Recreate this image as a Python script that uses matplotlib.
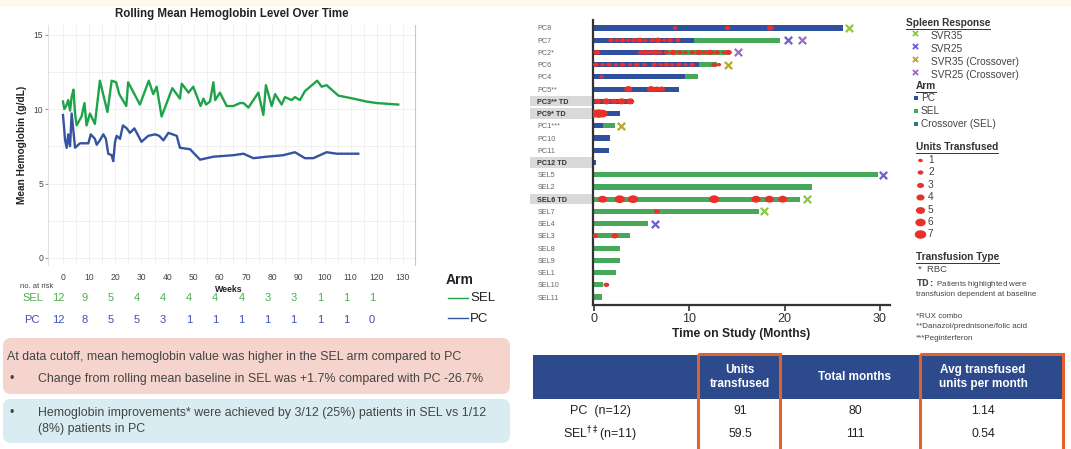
import numpy as np
import matplotlib.pyplot as plt
import matplotlib.transforms as mtransforms
from matplotlib.patches import Rectangle, FancyBboxPatch
from matplotlib.path import Path

plt.rcParams['font.family'] = ['Liberation Sans', 'DejaVu Sans']

W, H = 1071, 449

# rolling mean hemoglobin (g/dL) by study week
sel_weeks = [0, 0.5, 1.2, 2.0, 2.7, 3.3, 4.0, 4.6, 5.2, 7.1, 8.2, 9.0, 10.3, 12.2, 14.1, 17.0,
             18.6, 20.3, 21.5, 24.2, 24.9, 29.4, 32.8, 34.5, 35.8, 37.7, 41.8, 44.7, 45.4, 48.0,
             49.8, 52.6, 53.7, 54.7, 56.2, 57.5, 58.2, 60.0, 62.6, 65.1, 67.7, 69.0, 70.9, 74.7,
             76.6, 77.6, 79.8, 81.1, 83.6, 84.9, 87.4, 88.7, 90.6, 92.5, 97.2, 98.9, 100.8, 105.3,
             111.0, 116.1, 120.0, 128.2]
sel_hgb = [10.5, 10.0, 10.2, 10.6, 9.9, 10.8, 11.3, 9.7, 8.9, 9.5, 10.4, 8.9, 9.7, 9.0, 11.9, 9.8,
           11.9, 11.8, 11.0, 10.2, 11.8, 10.3, 11.9, 11.0, 11.5, 9.5, 11.4, 10.7, 11.7, 11.1,
           11.5, 10.2, 10.7, 10.3, 10.5, 11.8, 10.6, 11.1, 10.2, 10.2, 10.4, 10.4, 10.1, 11.1,
           9.6, 11.6, 10.2, 11.0, 10.3, 10.8, 10.6, 10.8, 10.6, 11.2, 11.9, 11.5, 11.6, 10.9,
           10.7, 10.5, 10.4, 10.3]
pc_weeks = [0, 0.8, 1.4, 2.0, 2.7, 3.3, 4.6, 6.5, 9.7, 10.6, 12.2, 12.9, 14.1, 15.4, 16.4, 17.3,
            18.6, 19.2, 19.9, 20.5, 21.8, 22.9, 24.4, 25.6, 27.3, 30.0, 32.6, 35.2, 36.8, 38.4,
            40.3, 43.5, 44.7, 48.6, 52.4, 57.5, 65.1, 69.0, 72.8, 77.9, 84.2, 88.7, 92.5, 95.7,
            100.8, 104.7, 112.9]
pc_hgb = [9.6, 7.9, 7.4, 8.3, 7.5, 9.7, 7.4, 7.7, 7.7, 8.3, 8.0, 7.6, 7.9, 8.3, 8.0, 7.0,
          6.9, 6.5, 7.8, 8.2, 8.0, 8.9, 8.7, 8.4, 8.7, 7.8, 8.2, 8.3, 8.2, 7.9,
          8.4, 8.2, 7.4, 7.3, 6.6, 6.8, 6.9, 7.0, 6.7, 6.8, 6.9, 7.1, 6.7, 6.7,
          7.1, 7.0, 7.0]

risk_weeks = [0, 10, 20, 30, 40, 50, 60, 70, 80, 90, 100, 110, 120]
risk_sel = [12, 9, 5, 4, 4, 4, 4, 4, 3, 3, 1, 1, 1]
risk_pc = [12, 8, 5, 5, 3, 1, 1, 1, 1, 1, 1, 1, 0]

# swimmer plot: time on study (months)
patients = ['PC8', 'PC7', 'PC2*', 'PC6', 'PC4', 'PC5**', 'PC3** TD', 'PC9* TD', 'PC1***',
            'PC10', 'PC11', 'PC12 TD', 'SEL5', 'SEL2', 'SEL6 TD', 'SEL7', 'SEL4', 'SEL3',
            'SEL8', 'SEL9', 'SEL1', 'SEL10', 'SEL11']
pc_end = [26.1, 10.5, 7.6, 11.0, 9.6, 8.9, 4.1, 2.7, 1.0, 1.7, 1.6, 0.2,
          0, 0, 0, 0, 0, 0, 0, 0, 0, 0, 0]
total_months = [26.1, 19.5, 14.3, 12.9, 10.9, 8.9, 4.1, 2.7, 2.2, 1.7, 1.6, 0.2,
                29.8, 22.9, 21.6, 17.3, 5.7, 3.8, 2.7, 2.7, 2.3, 0.9, 0.8]

tx_row = [0, 0, 0,
          1, 1, 1, 1, 1, 1, 1, 1, 1, 1, 1, 1,
          2, 2, 2, 2, 2, 2, 2, 2, 2, 2, 2, 2, 2, 2, 2, 2, 2,
          3, 3, 3, 3, 3, 3, 3, 3, 3, 3, 3, 3, 3, 3, 3, 3, 3,
          4, 5, 5, 5, 5, 6, 6, 6, 6, 6, 7, 7, 7,
          14, 14, 14, 14, 14, 14, 14, 15, 17, 17, 21]
tx_month = [8.5, 14.0, 18.5,
            1.8, 2.4, 3.0, 3.6, 4.2, 4.8, 5.4, 6.1, 6.7, 7.4, 8.0, 8.8,
            0.3, 4.9, 5.4, 5.9, 6.4, 6.9, 7.6, 8.3, 9.0, 9.6, 10.3, 11.0, 11.6, 12.2, 12.9, 13.6, 14.1,
            0.2, 0.9, 1.6, 2.3, 3.0, 3.8, 4.5, 5.3, 6.3, 7.0, 7.6, 8.2, 8.9, 9.6, 10.3, 12.6, 13.1,
            0.8, 3.6, 6.0, 6.6, 7.1, 0.4, 1.3, 2.1, 2.9, 3.8, 0.1, 0.5, 0.9,
            0.9, 2.7, 4.1, 12.6, 17.0, 18.4, 19.8, 6.6, 0.1, 2.2, 1.3]
tx_units = [1, 2, 3,
            2, 1, 2, 1, 2, 3, 1, 2, 3, 1, 2, 2,
            3, 2, 3, 2, 3, 2, 2, 3, 2, 1, 2, 3, 2, 3, 2, 1, 3,
            2, 1, 2, 1, 2, 1, 2, 1, 2, 1, 2, 1, 2, 1, 2, 2, 1,
            1, 4, 4, 3, 3, 3, 4, 3, 4, 4, 6, 7, 6,
            5, 6, 6, 6, 5, 5, 5, 2, 2, 3, 2]

sr_row = [0, 1, 1, 2, 3, 8, 12, 14, 15, 16]
sr_month = [26.8, 20.3, 21.8, 15.1, 14.1, 2.8, 30.3, 22.3, 17.8, 6.4]
sr_type = ['SVR35', 'SVR25', 'SVR25 (Crossover)', 'SVR25 (Crossover)', 'SVR35 (Crossover)',
           'SVR35 (Crossover)', 'SVR25', 'SVR35', 'SVR35', 'SVR25']
sr_types = ['SVR35', 'SVR25', 'SVR35 (Crossover)', 'SVR25 (Crossover)']
sr_colors = {'SVR35': '#8dc63f', 'SVR25': '#6a5cd8',
             'SVR35 (Crossover)': '#b5a631', 'SVR25 (Crossover)': '#9a6cc4'}

# summary table
tbl_header = ['Units\ntransfused', 'Total months', 'Avg transfused\nunits per month']
tbl_rows = ['PC  (n=12)', r'SEL$^{\dagger\ddagger}$(n=11)']
tbl_units = ['91', '59.5']
tbl_months = ['80', '111']
tbl_avg = ['1.14', '0.54']

GREEN = '#1fa34a'
BLUE = '#3552a3'
BAR_BLUE = '#2f4f9f'
BAR_GREEN = '#45a85a'
RED = '#e8312a'


def px_rect(x0, y0, x1, y1):
    return [x0 / W, 1 - y1 / H, (x1 - x0) / W, (y1 - y0) / H]


fig = plt.figure(figsize=(W / 100, H / 100), dpi=100)
fig.patch.set_facecolor('white')

# overlay in pixel coordinates for boxes, legends and the table
ov = fig.add_axes([0, 0, 1, 1], zorder=0)
ov.set_xlim(0, W)
ov.set_ylim(H, 0)
ov.axis('off')
ov.add_patch(Rectangle((0, 0), W, 7, color='#fcfbec', lw=0))

# ---------------- left: rolling mean hemoglobin ----------------
ax = fig.add_axes(px_rect(48, 25, 415, 265), zorder=1)
ax.plot(sel_weeks, sel_hgb, color=GREEN, lw=1.7, zorder=3)
ax.plot(pc_weeks, pc_hgb, color=BLUE, lw=1.7, zorder=3)
ax.set_xlim(-5.74, 134.6)
ax.set_ylim(-0.47, 15.64)
ax.set_xticks(np.arange(0, 131, 10))
ax.set_xticks(np.arange(5, 131, 10), minor=True)
ax.set_yticks([0, 5, 10, 15])
ax.set_yticks([2.5, 7.5, 12.5], minor=True)
ax.grid(True, which='both', color='#eeeeee', lw=0.6)
ax.tick_params(axis='x', which='both', length=0, labelsize=6.2, labelcolor='#444444', pad=6)
ax.tick_params(axis='y', which='major', length=2, color='#999999', labelsize=6.2,
               labelcolor='#444444', pad=1.5)
ax.tick_params(axis='y', which='minor', length=0)
for s in ['top', 'bottom']:
    ax.spines[s].set_visible(False)
ax.spines['left'].set_color('#e0e0e0')
ax.spines['right'].set_color('#c8c8c8')
ax.set_ylabel('Mean Hemoglobin (g/dL)', fontsize=7.3, fontweight='bold', color='#222222')
ax.yaxis.set_label_coords(-0.058, 0.5)
ov.text(232, 14, 'Rolling Mean Hemoglobin Level Over Time', ha='center', va='center',
        fontsize=8.3, fontweight='bold', color='#222222')
ov.text(229, 289, 'Weeks', ha='center', va='center', fontsize=6.3, fontweight='bold', color='#222222')

# number at risk
risk_tr = mtransforms.blended_transform_factory(ax.transData, ov.transData)
ov.text(20, 286, 'no. at risk', ha='left', va='center', fontsize=5.5, color='#444444')
ov.text(22, 298, 'SEL', ha='left', va='center', fontsize=8, color='#4caf50')
ov.text(24, 320, 'PC', ha='left', va='center', fontsize=8, color='#3f51b5')
for w, ns, npc in zip(risk_weeks, risk_sel, risk_pc):
    ax.text(w - 1.8, 298, str(ns), transform=risk_tr, ha='center', va='center',
            fontsize=8, color='#4caf50')
    ax.text(w - 1.8, 320, str(npc), transform=risk_tr, ha='center', va='center',
            fontsize=8, color='#3f51b5')

# arm legend
ov.text(446, 280, 'Arm', ha='left', va='center', fontsize=10, fontweight='bold', color='#222222')
ov.plot([448, 468], [298, 298], color=GREEN, lw=1)
ov.plot([448, 468], [318, 318], color=BLUE, lw=1)
ov.text(470, 298, 'SEL', ha='left', va='center', fontsize=9.5, color='#222222')
ov.text(470, 319, 'PC', ha='left', va='center', fontsize=9.5, color='#222222')

# summary boxes
ov.add_patch(FancyBboxPatch((3, 338), 507, 56, boxstyle='round,pad=0,rounding_size=8',
                            fc='#f6d4ce', ec='none'))
ov.add_patch(FancyBboxPatch((3, 399), 507, 44, boxstyle='round,pad=0,rounding_size=8',
                            fc='#d8ecf1', ec='none'))
txt_kw = dict(ha='left', va='center', fontsize=8.9, color='#444444')
ov.text(7, 357, 'At data cutoff, mean hemoglobin value was higher in the SEL arm compared to PC', **txt_kw)
ov.text(10, 379, '\u2022', **txt_kw)
ov.text(38, 379, 'Change from rolling mean baseline in SEL was +1.7% compared with PC -26.7%', **txt_kw)
ov.text(10, 413, '\u2022', **txt_kw)
ov.text(38, 413, 'Hemoglobin improvements* were achieved by 3/12 (25%) patients in SEL vs 1/12', **txt_kw)
ov.text(38, 429, '(8%) patients in PC', **txt_kw)

# ---------------- right: swimmer plot ----------------
sw = fig.add_axes(px_rect(593, 20, 890, 305), zorder=1)
rows = np.arange(len(patients))
pc_end = np.array(pc_end)
total_months = np.array(total_months)
sw.barh(rows, pc_end, height=0.42, color=BAR_BLUE, zorder=2)
sw.barh(rows, total_months - pc_end, left=pc_end, height=0.42, color=BAR_GREEN, zorder=2)

ell = Path.unit_circle()
ell = Path(ell.vertices * [1.35, 1.0], ell.codes)
tx_size = (3.5 + 1.15 * np.array(tx_units)) / 1.389
sw.scatter(tx_month, tx_row, s=tx_size ** 2, marker=ell, color=RED, lw=0, zorder=4)
for t in sr_types:
    idx = [i for i, v in enumerate(sr_type) if v == t]
    sw.scatter([sr_month[i] for i in idx], [sr_row[i] for i in idx], marker='x', s=28,
               linewidths=1.6, color=sr_colors[t], zorder=5)

sw.set_xlim(-0.1, 31.05)
sw.set_ylim(22.65, -0.65)
sw.set_xticks([0, 10, 20, 30])
sw.set_yticks(rows)
sw.set_yticklabels(patients, ha='left')
sw.tick_params(axis='y', length=0, pad=40, labelsize=5.2, labelcolor='#666666')
sw.tick_params(axis='x', length=4, width=1.2, color='#333333', labelsize=9,
               labelcolor='#333333', pad=2)
for s in ['top', 'right']:
    sw.spines[s].set_visible(False)
for s in ['left', 'bottom']:
    sw.spines[s].set_color('#333333')
    sw.spines[s].set_linewidth(1.6)
sw.set_xlabel('Time on Study (Months)', fontsize=8.7, fontweight='bold', color='#222222', labelpad=2)
band_tr = mtransforms.blended_transform_factory(sw.transAxes, sw.transData)
for i, (lab, tick) in enumerate(zip(patients, sw.get_yticklabels())):
    if lab.endswith('TD'):
        tick.set_fontweight('bold')
        tick.set_color('#333333')
        sw.add_patch(Rectangle((-0.212, i - 0.42), 0.208, 0.84, transform=band_tr,
                               color='#d9d9d9', lw=0, clip_on=False, zorder=0))

# ---------------- right legend ----------------
heads = []
heads.append(ov.text(906, 23, 'Spleen Response', ha='left', va='center', fontsize=7.3,
                     fontweight='bold', color='#333333'))
for k, t in enumerate(sr_types):
    y = 34 + 13 * k
    ov.scatter([915], [y - 1], marker='x', s=14, linewidths=1.3, color=sr_colors[t])
    ov.text(931, y + 2, t, ha='left', va='center', fontsize=7.3, color='#444444')
heads.append(ov.text(916, 86, 'Arm', ha='left', va='center', fontsize=7.3,
                     fontweight='bold', color='#333333'))
for k, (lab, col) in enumerate(zip(['PC', 'SEL', 'Crossover (SEL)'],
                                   [BAR_BLUE, BAR_GREEN, '#2f7a86'])):
    y = 98 + 13 * k
    ov.add_patch(Rectangle((914, y - 2.5), 4, 4, color=col, lw=0))
    ov.text(921, y, lab, ha='left', va='center', fontsize=7.3, color='#444444')
heads.append(ov.text(916, 147, 'Units Transfused', ha='left', va='center', fontsize=7.3,
                     fontweight='bold', color='#333333'))
for u in range(1, 8):
    y = 160 + 12.4 * (u - 1)
    ov.scatter([920], [y], s=((3.5 + 1.15 * u) / 1.389) ** 2, marker=ell, color=RED, lw=0)
    ov.text(928, y, str(u), ha='left', va='center', fontsize=7.3, color='#444444')
heads.append(ov.text(916, 257, 'Transfusion Type', ha='left', va='center', fontsize=7.3,
                     fontweight='bold', color='#333333'))
ov.text(918, 270, '*  RBC', ha='left', va='center', fontsize=6.8, color='#444444')
ov.text(916, 283, r'$\bf{TD:}$ Patients highlighted were', ha='left', va='center',
        fontsize=5.8, color='#444444')
ov.text(916, 294, 'transfusion dependent at baseline', ha='left', va='center',
        fontsize=5.8, color='#444444')
ov.text(916, 316, '*RUX combo', ha='left', va='center', fontsize=5.8, color='#444444')
ov.text(916, 327, '**Danazol/prednisone/folic acid', ha='left', va='center', fontsize=5.8,
        color='#444444')
ov.text(916, 338, '***Peginterferon', ha='left', va='center', fontsize=5.8, color='#444444')

# ---------------- summary table ----------------
col_x = [600, 740, 855, 983]
ov.add_patch(Rectangle((533, 355), 531, 44, color='#2d4a8c', lw=0))
for x, lab in zip(col_x[1:], tbl_header):
    ov.text(x, 377, lab, ha='center', va='center', fontsize=8.5, fontweight='bold',
            color='white', linespacing=1.15)
for r, y in enumerate([411, 434]):
    ov.text(col_x[0], y, tbl_rows[r], ha='center', va='center', fontsize=9, color='#222222')
    ov.text(col_x[1], y, tbl_units[r], ha='center', va='center', fontsize=8.8, color='#222222')
    ov.text(col_x[2], y, tbl_months[r], ha='center', va='center', fontsize=8.8, color='#222222')
    ov.text(col_x[3], y, tbl_avg[r], ha='center', va='center', fontsize=8.8, color='#222222')
ov.add_patch(Rectangle((698, 354), 82, 100, fill=False, ec='#e0622c', lw=2.2))
ov.add_patch(Rectangle((920, 354), 143, 100, fill=False, ec='#e0622c', lw=2.2))

# underline the legend headings
fig.canvas.draw()
inv = ov.transData.inverted()
for t in heads:
    bb = t.get_window_extent()
    (x0, y0), (x1, y1) = inv.transform([[bb.x0, bb.y0], [bb.x1, bb.y1]])
    ov.plot([x0, x1], [y0 + 0.5, y0 + 0.5], color='#333333', lw=0.7)

fig.savefig('out.png', dpi=100)
